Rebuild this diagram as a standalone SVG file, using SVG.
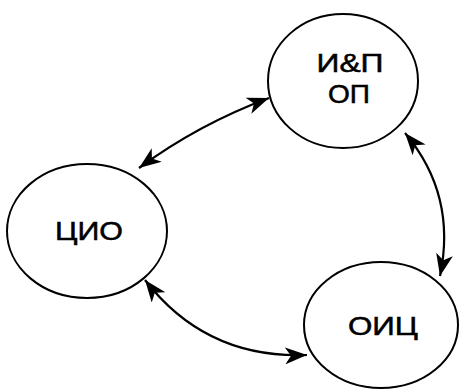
<svg xmlns="http://www.w3.org/2000/svg" width="460" height="392" viewBox="0 0 460 392">
<style>
.node ellipse{fill:#fff;stroke:#000;stroke-width:2}
.node text{font-family:"Liberation Sans",Arial,sans-serif;font-size:25px;fill:#000;stroke:#000;stroke-width:0.5;text-anchor:middle}
.conn path{fill:none;stroke:#000;stroke-width:2.2;marker-start:url(#ah);marker-end:url(#ah)}
</style>
<defs>
<marker id="ah" viewBox="0 0 22 17" refX="22" refY="8.5" markerWidth="22" markerHeight="17" markerUnits="userSpaceOnUse" orient="auto-start-reverse">
<path d="M0,0 L22,8.5 L0,17 L6,8.5 z" fill="#000"/>
</marker>
</defs>
<rect width="460" height="392" fill="#fff"/>
<g id="n-iop" class="node">
<ellipse cx="343" cy="81" rx="75" ry="67"/>
<text x="350" y="72" textLength="67" lengthAdjust="spacingAndGlyphs">И&amp;П</text>
<text x="349" y="103" textLength="42" lengthAdjust="spacingAndGlyphs">ОП</text>
</g>
<g id="n-cio" class="node">
<ellipse cx="87" cy="231" rx="80" ry="67"/>
<text x="89" y="240" textLength="68" lengthAdjust="spacingAndGlyphs">ЦИО</text>
</g>
<g id="n-oic" class="node">
<ellipse cx="381" cy="325" rx="77" ry="63"/>
<text x="383" y="335" textLength="70" lengthAdjust="spacingAndGlyphs">ОИЦ</text>
</g>
<g id="connectors" class="conn">
<path d="M139,168 Q199,124 269,98"/>
<path d="M405,133 Q457,195 440,276"/>
<path d="M145,280 Q206,359 307,355"/>
</g>
</svg>
